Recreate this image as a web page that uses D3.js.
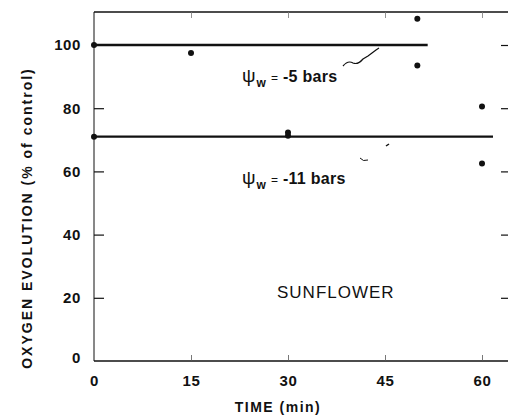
<!DOCTYPE html>
<html><head><meta charset="utf-8">
<script src="https://cdn.jsdelivr.net/npm/d3@7"></script>
<style>body{margin:0;background:#fff}svg{display:block}</style>
</head><body>
<script>
const xTicks = [0, 15, 30, 45, 60];
const yTicks = [0, 20, 40, 60, 80, 100];
const pointsT = [0, 15, 50, 50, 60, 60, 0, 30, 30];
const pointsV = [100, 97.5, 108.3, 93.5, 80.5, 62.5, 71, 71.3, 72.3];
const lineLevels = [100, 71];
const lineEnds = [51.6, 61.7];
const lineLabels = ["-5 bars", "-11 bars"];

const W = 508, H = 415;
const svg = d3.select("body").append("svg").attr("width", W).attr("height", H);
const x = d3.scaleLinear().domain([0, 60]).range([94, 482]);
const y = d3.scaleLinear().domain([0, 100]).range([361, 45]);
const xMax = x.invert(509), yMax = y.invert(12);
const font = "'Liberation Sans', Arial, sans-serif";

// frame
const g = svg.append("g").attr("stroke", "#111").attr("fill", "none");
g.append("line").attr("x1", x(0)).attr("x2", x(0)).attr("y1", y(yMax)).attr("y2", y(0)).attr("stroke-width", 1);
g.append("line").attr("x1", x(0)).attr("x2", x(xMax)).attr("y1", y(0)).attr("y2", y(0)).attr("stroke-width", 1.3);
g.append("line").attr("x1", x(0)).attr("x2", x(xMax)).attr("y1", y(yMax)).attr("y2", y(yMax)).attr("stroke-width", 1.3);

// axes with inward ticks
const yAxis = d3.axisLeft(y).tickValues(yTicks).tickSize(-10).tickPadding(13).tickFormat(d3.format("d"));
const ya = svg.append("g").attr("transform", `translate(${x(0)},0)`).call(yAxis);
ya.select(".domain").remove();
ya.selectAll(".tick line").attr("stroke", "#111").attr("stroke-width", 1.2).filter(d => d === 0 || d === 100).remove();
ya.selectAll("text").attr("font-family", font).attr("font-size", 15).attr("font-weight", "bold").attr("letter-spacing", 0.6).attr("fill", "#111");
ya.selectAll(".tick").filter(d => d === 0).select("text").attr("dy", "0.1em");

const yR = svg.append("g").attr("transform", `translate(${x(xMax)},0)`).call(d3.axisRight(y).tickValues(yTicks.filter(d => d > 0)).tickSize(-8).tickFormat(""));
yR.select(".domain").remove();
yR.selectAll(".tick line").attr("stroke", "#111").attr("stroke-width", 1.2);

const xAxis = d3.axisBottom(x).tickValues(xTicks).tickSize(-6).tickPadding(14).tickFormat(d3.format("d"));
const xa = svg.append("g").attr("transform", `translate(0,${y(0)})`).call(xAxis);
xa.select(".domain").remove();
xa.selectAll(".tick line").attr("stroke", "#555").attr("stroke-width", 0.8).filter(d => d === 0).remove();
xa.selectAll("text").attr("font-family", font).attr("font-size", 15).attr("font-weight", "bold").attr("letter-spacing", 0.6).attr("fill", "#111");

const xTop = svg.append("g").attr("transform", `translate(0,${y(yMax)})`).call(d3.axisTop(x).tickValues(xTicks.filter(d => d > 0)).tickSize(-6).tickFormat(""));
xTop.select(".domain").remove();
xTop.selectAll(".tick line").attr("stroke", "#777").attr("stroke-width", 0.8);

// horizontal lines
svg.append("g").selectAll("line").data(lineLevels).join("line")
  .attr("x1", x(0)).attr("x2", (d, i) => x(lineEnds[i]))
  .attr("y1", d => y(d)).attr("y2", d => y(d))
  .attr("stroke", "#111").attr("stroke-width", 2.4);

// points
svg.append("g").selectAll("circle").data(pointsT).join("circle")
  .attr("cx", d => x(d)).attr("cy", (d, i) => y(pointsV[i])).attr("r", 3).attr("fill", "#111");

// labels
const labY = [82, 184];
const labX = [242, 242];
lineLabels.forEach((t, i) => {
  const tx = svg.append("text").attr("x", labX[i]).attr("y", labY[i]).attr("font-family", font).attr("font-size", 16).attr("fill", "#111");
  tx.append("tspan").text("ψ").attr("font-size", 19);
  tx.append("tspan").text("w").attr("font-size", 12).attr("font-weight", "bold").attr("dy", 5).attr("dx", 1);
  tx.append("tspan").text("=").attr("dy", -5).attr("dx", 5).attr("font-size", 12);
  tx.append("tspan").text(t).attr("font-weight", "bold").attr("letter-spacing", 0.3).attr("dx", 5);
});
// leader squiggles
svg.append("path").attr("d", "M343,66 q5,-6 10,-3 q5,2 10,-4 l5,-3 l4,-3 l4,-3 l3,-2")
  .attr("fill", "none").attr("stroke", "#111").attr("stroke-width", 1.2);
svg.append("path").attr("d", "M386,146 l3,-2").attr("stroke", "#111").attr("stroke-width", 1.5);
svg.append("path").attr("d", "M360,158 q3,4 8,2").attr("fill", "none").attr("stroke", "#111").attr("stroke-width", 1);

svg.append("text").attr("x", 277).attr("y", 298).attr("font-family", font).attr("font-size", 17).attr("fill", "#111").attr("letter-spacing", 1).text("SUNFLOWER");

svg.append("text").attr("x", 278).attr("y", 412).attr("text-anchor", "middle").attr("font-family", font).attr("font-size", 14).attr("font-weight", "bold").attr("letter-spacing", 1.5).attr("fill", "#111").text("TIME  (min)");
svg.append("text").attr("transform", "translate(32,218) rotate(-90)").attr("text-anchor", "middle").attr("font-family", font).attr("font-size", 14).attr("font-weight", "bold").attr("letter-spacing", 2).attr("fill", "#111").text("OXYGEN  EVOLUTION  (% of control)");
</script>
</body></html>
